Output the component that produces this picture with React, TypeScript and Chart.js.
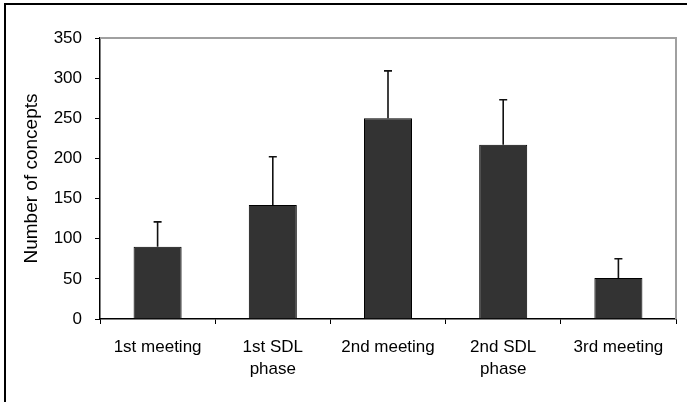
import React, { useEffect, useRef } from "react";
import { Chart, registerables } from "chart.js";

Chart.register(...registerables);

const categories: (string | string[])[] = [
  "1st meeting",
  ["1st SDL", "phase"],
  "2nd meeting",
  ["2nd SDL", "phase"],
  "3rd meeting",
];
const meanConcepts = [90, 142, 250, 217, 51];
const errorUp = [31, 60, 59, 56, 24];
const yTicks = [0, 50, 100, 150, 200, 250, 300, 350];

const FONT = "'Liberation Sans', Arial, Helvetica, sans-serif";

const framePlugin = {
  id: "frame",
  beforeDatasetsDraw(chart: any) {
    const { ctx, chartArea } = chart;
    ctx.save();
    ctx.strokeStyle = "#a0a0a0";
    ctx.lineWidth = 2;
    ctx.beginPath();
    ctx.moveTo(chartArea.left, chartArea.top);
    ctx.lineTo(chartArea.right, chartArea.top);
    ctx.lineTo(chartArea.right, chartArea.bottom);
    ctx.stroke();
    ctx.restore();
  },
  afterDraw(chart: any) {
    const { ctx, width, height } = chart;
    ctx.save();
    ctx.strokeStyle = "#000";
    ctx.lineWidth = 2;
    ctx.beginPath();
    ctx.moveTo(width, 4);
    ctx.lineTo(5, 4);
    ctx.lineTo(5, height);
    ctx.stroke();
    ctx.restore();
  },
};

const errorBarPlugin = {
  id: "errbars",
  afterDatasetsDraw(chart: any) {
    const { ctx } = chart;
    const meta = chart.getDatasetMeta(0);
    const yScale = chart.scales.y;
    ctx.save();
    ctx.strokeStyle = "#111";
    ctx.lineWidth = 1.6;
    meta.data.forEach((bar: any, i: number) => {
      const x = bar.x;
      const y0 = yScale.getPixelForValue(meanConcepts[i]);
      const y1 = yScale.getPixelForValue(meanConcepts[i] + errorUp[i]);
      ctx.beginPath();
      ctx.moveTo(x, y0);
      ctx.lineTo(x, y1);
      ctx.moveTo(x - 4, y1);
      ctx.lineTo(x + 4, y1);
      ctx.stroke();
    });
    ctx.restore();
  },
};

export default function App() {
  const ref = useRef<HTMLCanvasElement | null>(null);
  useEffect(() => {
    document.body.style.margin = "0";
    if (!ref.current) return;
    const chart = new Chart(ref.current, {
      type: "bar",
      data: {
        labels: categories,
        datasets: [
          {
            data: meanConcepts,
            backgroundColor: "#333333",
            borderColor: "#000",
            borderWidth: 1,
            barPercentage: 0.417,
            categoryPercentage: 1,
          },
        ],
      },
      options: {
        animation: false,
        responsive: false,
        maintainAspectRatio: false,
        layout: { padding: { left: 0, right: 11, top: 38, bottom: 0 } },
        plugins: { legend: { display: false }, tooltip: { enabled: false } },
        scales: {
          x: {
            offset: true,
            grid: {
              offset: true,
              drawOnChartArea: false,
              drawTicks: true,
              tickLength: 5,
              color: "#000",
              lineWidth: 1,
            },
            border: { color: "#000", width: 1.5 },
            ticks: {
              color: "#000",
              font: { family: FONT, size: 17, lineHeight: 1.25 },
              padding: 13,
              maxRotation: 0,
              autoSkip: false,
            },
            afterFit(scale: any) {
              scale.height = 83;
            },
          },
          y: {
            min: 0,
            max: 350,
            afterBuildTicks(scale: any) {
              scale.ticks = yTicks.map((v) => ({ value: v }));
            },
            grid: {
              drawOnChartArea: false,
              drawTicks: true,
              tickLength: 5,
              color: "#000",
              lineWidth: 1,
            },
            border: { color: "#000", width: 1.5 },
            ticks: {
              color: "#000",
              font: { family: FONT, size: 17 },
              padding: 13,
            },
            title: {
              display: true,
              text: "Number of concepts",
              color: "#000",
              font: { family: FONT, size: 19 },
              padding: { top: 20, bottom: 0 },
            },
            afterFit(scale: any) {
              scale.width = 100;
            },
          },
        },
      },
      plugins: [framePlugin, errorBarPlugin],
    });
    return () => chart.destroy();
  }, []);
  return (
    <div style={{ width: 687, height: 402, background: "#fff" }}>
      <canvas ref={ref} width={687} height={402} style={{ display: "block" }} />
    </div>
  );
}
